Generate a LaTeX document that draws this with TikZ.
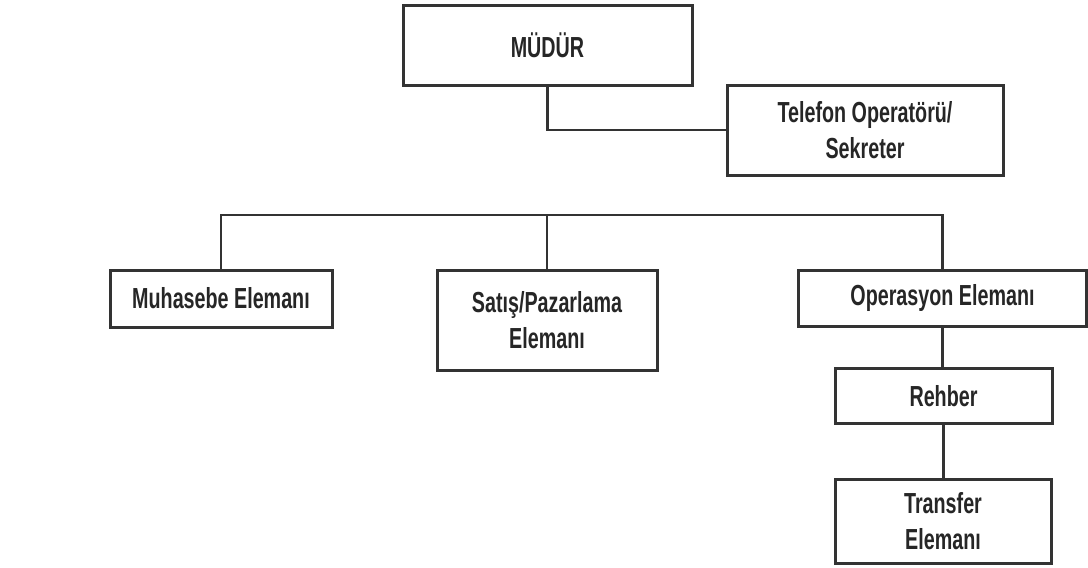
\documentclass[tikz,border=0pt]{standalone}
\usepackage{fontspec}
\setmainfont{Liberation Sans}[FakeStretch=0.68]
\begin{document}
\begin{tikzpicture}[x=1pt,y=-1pt,
  box/.style={draw=black!80, line width=3pt, fill=white, align=center, inner sep=0pt,
    font=\fontsize{29}{36}\selectfont\bfseries, text=black!85},
  conn/.style={draw=black!80, line width=2.5pt}]
\useasboundingbox (0,0) rectangle (1088,568);
\node[box, minimum width=289, minimum height=80] (mudur) at (547.5,45) {MÜDÜR};
\node[box, minimum width=276, minimum height=90] (tel) at (865,130) {Telefon Operatörü/\\Sekreter};
\node[box, minimum width=222, minimum height=57] (muh) at (221,298.5) {Muhasebe Elemanı};
\node[box, minimum width=220, minimum height=100] (sat) at (547,320) {Satış/Pazarlama\\Elemanı};
\node[box, minimum width=288, minimum height=56] (ops) at (942.5,298) {Operasyon Elemanı};
\node[box, minimum width=217, minimum height=55] (reh) at (943.5,396) {Rehber};
\node[box, minimum width=216, minimum height=84] (tra) at (943,521) {Transfer\\Elemanı};
\coordinate (bus) at (547,215);
\draw[conn] (mudur.south) |- (tel.west);
\draw[conn] (muh.north) |- (bus) -| (ops.north);
\draw[conn] (sat.north) -- (bus);
\draw[conn] (ops.south) -- (ops.south |- reh.north);
\draw[conn] (reh.south) -- (reh.south |- tra.north);
\end{tikzpicture}
\end{document}
